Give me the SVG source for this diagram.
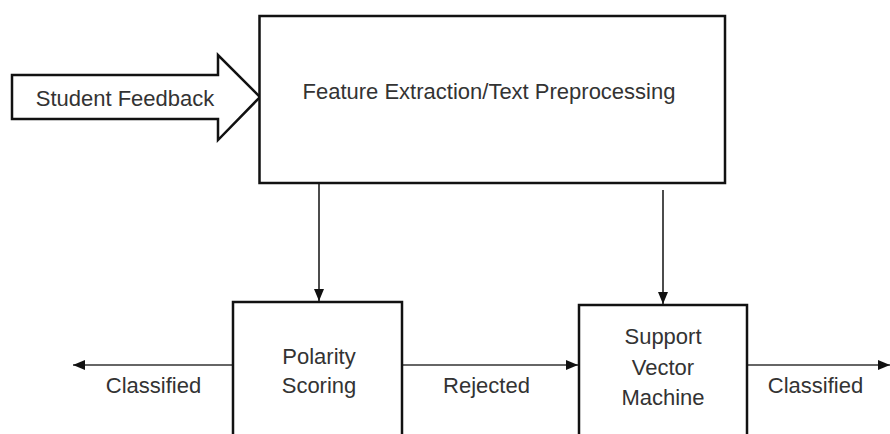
<svg xmlns="http://www.w3.org/2000/svg" width="890" height="434" viewBox="0 0 890 434">
  <defs>
    <marker id="arrow" viewBox="0 0 12 10" refX="12" refY="5" markerWidth="12" markerHeight="10" markerUnits="userSpaceOnUse" orient="auto">
      <path d="M0,0 L12,5 L0,10 Z" fill="#111"/>
    </marker>
    <style>
      .box { fill: #fff; stroke: #111; stroke-width: 2.5; }
      .label { font-family: "Liberation Sans", Arial, sans-serif; font-size: 22px; fill: #333; text-anchor: middle; }
      .flow-v { stroke: #111; stroke-width: 1.5; fill: none; }
      .flow-h { stroke: #666; stroke-width: 2; fill: none; }
    </style>
  </defs>
  <rect width="890" height="434" fill="#fff"/>

  <g id="connectors">
    <line class="flow-v" x1="319" y1="184" x2="319" y2="301" marker-end="url(#arrow)"/>
    <line class="flow-v" x1="663" y1="190" x2="663" y2="304" marker-end="url(#arrow)"/>
    <line class="flow-h" x1="233" y1="365" x2="73" y2="365" marker-end="url(#arrow)"/>
    <line class="flow-h" x1="402" y1="365" x2="578" y2="365" marker-end="url(#arrow)"/>
    <line class="flow-h" x1="747" y1="365" x2="890" y2="365" marker-end="url(#arrow)"/>
    <text class="label" x="153.5" y="393">Classified</text>
    <text class="label" x="486.5" y="393">Rejected</text>
    <text class="label" x="815.5" y="393">Classified</text>
  </g>

  <g id="student-feedback">
    <path class="box" d="M12,75 L218,75 L218,55 L260,97 L218,140 L218,119 L12,119 Z"/>
    <text class="label" x="125" y="106">Student Feedback</text>
  </g>

  <g id="feature-extraction">
    <rect class="box" x="259.5" y="16" width="465.5" height="167"/>
    <text class="label" x="489" y="99">Feature Extraction/Text Preprocessing</text>
  </g>

  <g id="polarity-scoring">
    <rect class="box" x="233" y="302" width="169" height="140"/>
    <text class="label" x="319" y="364">Polarity</text>
    <text class="label" x="319" y="393">Scoring</text>
  </g>

  <g id="support-vector-machine">
    <rect class="box" x="579" y="305" width="168" height="140"/>
    <text class="label" x="663" y="344">Support</text>
    <text class="label" x="663" y="375">Vector</text>
    <text class="label" x="663" y="405">Machine</text>
  </g>
</svg>
